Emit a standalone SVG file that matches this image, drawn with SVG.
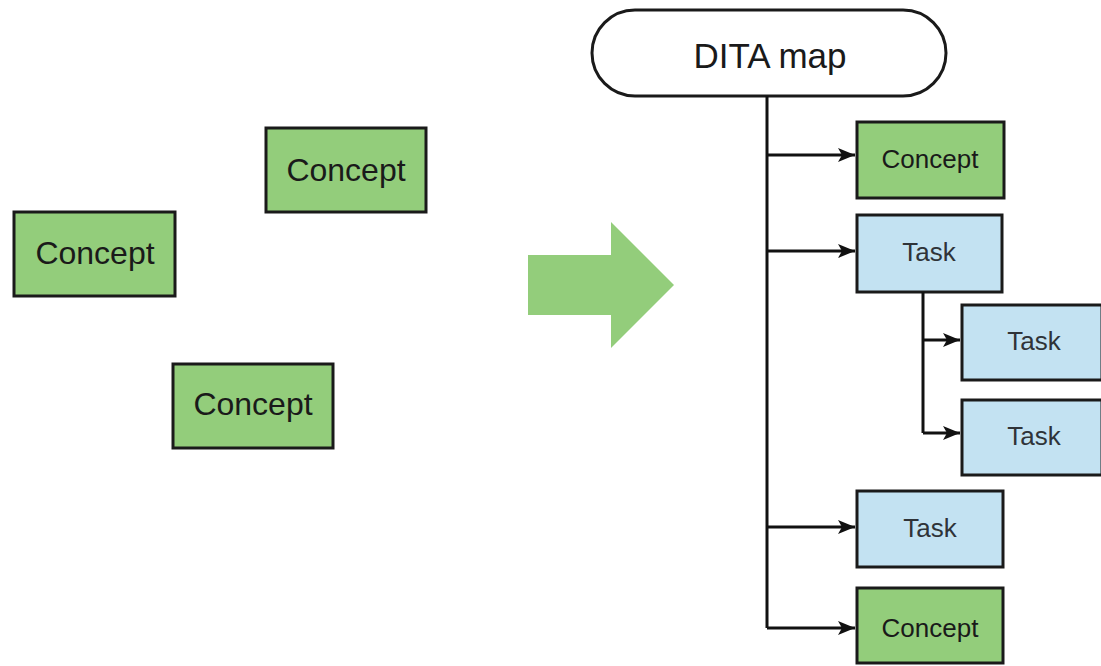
<svg xmlns="http://www.w3.org/2000/svg" width="1101" height="666" viewBox="0 0 1101 666">
<style>
.concept{fill:#93cd7b;stroke:#1a1a1a;stroke-width:3}
.task{fill:#c3e2f2;stroke:#1a1a1a;stroke-width:3}
.lbl{font-family:"Liberation Sans",Arial,sans-serif;text-anchor:middle;fill:#1a1a1a}
.big{font-size:32px}
.small{font-size:26px}
.tlbl{fill:#2f3338}
.conn{fill:none;stroke:#111;stroke-width:3}
</style>
<defs>
<marker id="ah" viewBox="0 0 17 14" refX="17" refY="7" markerWidth="17" markerHeight="14" markerUnits="userSpaceOnUse" orient="auto">
<path d="M0,0 L17,7 L0,14 L4,7 Z" fill="#111"/>
</marker>
</defs>
<rect width="1101" height="666" fill="#fff"/>
<g id="loose-concept-1"><rect class="concept" x="266" y="128" width="160" height="84"/><text class="lbl big" x="346" y="181">Concept</text></g>
<g id="loose-concept-2"><rect class="concept" x="14" y="212" width="161" height="84"/><text class="lbl big" x="95" y="264">Concept</text></g>
<g id="loose-concept-3"><rect class="concept" x="173" y="364" width="160" height="84"/><text class="lbl big" x="253" y="415">Concept</text></g>
<g id="big-arrow"><polygon points="528,255 611,255 611,222 674,285 611,348 611,315 528,315" fill="#93cd7b"/></g>
<g id="dita-map"><rect x="592" y="10" width="354" height="86" rx="43" ry="43" fill="#fff" stroke="#1a1a1a" stroke-width="3"/><text class="lbl" x="770" y="68" font-size="35">DITA map</text></g>
<g id="map-concept-1"><rect class="concept" x="857" y="122" width="147" height="76"/><text class="lbl small" x="930" y="168">Concept</text></g>
<g id="map-task-1"><rect class="task" x="857" y="215" width="145" height="77"/><text class="lbl small tlbl" x="929" y="261">Task</text></g>
<g id="map-task-2"><rect class="task" x="962" y="305" width="140" height="75"/><text class="lbl small tlbl" x="1034" y="350">Task</text></g>
<g id="map-task-3"><rect class="task" x="962" y="400" width="140" height="75"/><text class="lbl small tlbl" x="1034" y="445">Task</text></g>
<g id="map-task-4"><rect class="task" x="857" y="491" width="146" height="76"/><text class="lbl small tlbl" x="930" y="537">Task</text></g>
<g id="map-concept-2"><rect class="concept" x="857" y="588" width="146" height="75"/><text class="lbl small" x="930" y="637">Concept</text></g>
<g id="connectors">
<path class="conn" d="M767,96 V628"/>
<path class="conn" d="M767,155 H855" marker-end="url(#ah)"/>
<path class="conn" d="M767,251 H855" marker-end="url(#ah)"/>
<path class="conn" d="M767,527 H855" marker-end="url(#ah)"/>
<path class="conn" d="M767,628 H855" marker-end="url(#ah)"/>
<path class="conn" d="M923,292 V433"/>
<path class="conn" d="M923,340 H960" marker-end="url(#ah)"/>
<path class="conn" d="M923,433 H960" marker-end="url(#ah)"/>
</g>
</svg>
